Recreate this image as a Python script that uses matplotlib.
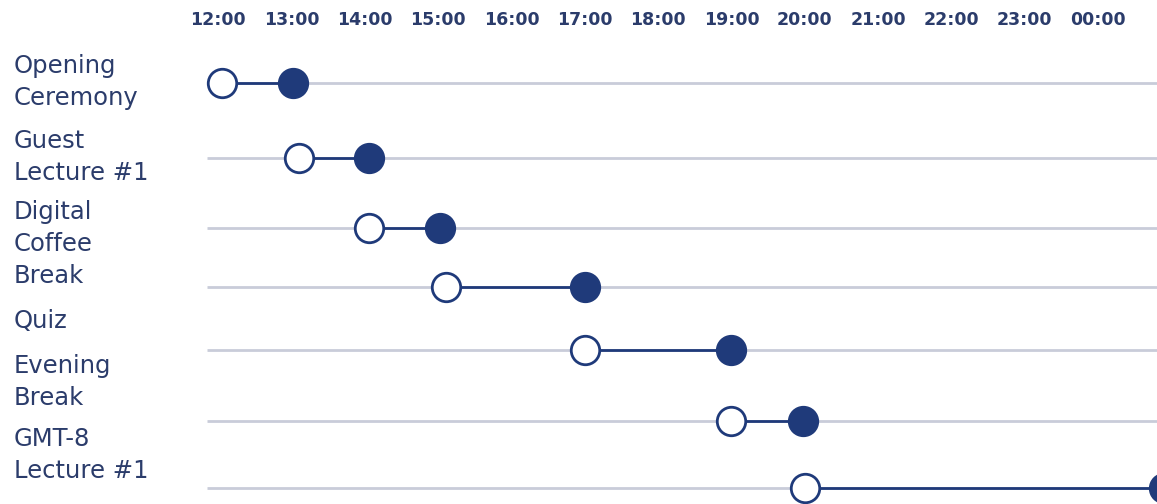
import matplotlib
matplotlib.use("Agg")
import matplotlib.pyplot as plt

# ---- data ----
row_labels = ["Opening\nCeremony", "Guest\nLecture #1", "Digital\nCoffee\nBreak",
              "Quiz", "Evening\nBreak", "GMT-8\nLecture #1"]
start_hours = [12.0, 13.05, 14.0, 15.05, 16.95, 18.95, 19.95]
end_hours = [12.97, 14.0, 14.97, 16.95, 18.95, 19.93, 24.85]
tick_hours = [12, 13, 14, 15, 16, 17, 18, 19, 20, 21, 22, 23, 24]
tick_labels = ["12:00", "13:00", "14:00", "15:00", "16:00", "17:00", "18:00",
               "19:00", "20:00", "21:00", "22:00", "23:00", "00:00"]

# ---- layout (pixel positions in the 1157x504 canvas) ----
W, H = 1157, 504
row_y = [83, 158, 228, 287, 350, 421, 488]
label_y = [82, 157, 244, 321, 382, 455]
px_per_hour = 73.3
x0_px = 222

navy = "#1f3a7a"
text_col = "#2b3c6b"
grid_col = "#c9ccd9"

fig = plt.figure(figsize=(W / 100, H / 100), dpi=100)
ax = fig.add_axes([0, 0, 1, 1])
ax.set_xlim(12 - x0_px / px_per_hour, 12 + (W - x0_px) / px_per_hour)
ax.set_ylim(H, 0)
ax.axis("off")

grid_left = 12 - (x0_px - 207) / px_per_hour
xmax = ax.get_xlim()[1]
for y in row_y:
    ax.plot([grid_left, xmax], [y, y], color=grid_col, lw=2.0, zorder=1,
            solid_capstyle="butt")

for y, s, e in zip(row_y, start_hours, end_hours):
    ax.plot([s, e], [y, y], color=navy, lw=2.0, zorder=2)
    ax.plot([e], [y], marker="o", ms=21.5, mfc=navy, mec=navy, mew=1.0, zorder=3)
    ax.plot([s], [y], marker="o", ms=20.5, mfc="white", mec=navy, mew=2.0, zorder=3)

for h, lab in zip(tick_hours, tick_labels):
    ax.text(h - 0.05, 20, lab, ha="center", va="center", fontsize=12.5,
            fontweight="bold", color=text_col, family="DejaVu Sans")

for y, lab in zip(label_y, row_labels):
    fig.text(14 / W, 1 - y / H, lab, ha="left", va="center", fontsize=17.5,
             color=text_col, linespacing=1.4, family="DejaVu Sans")

fig.savefig("out.png", dpi=100)
